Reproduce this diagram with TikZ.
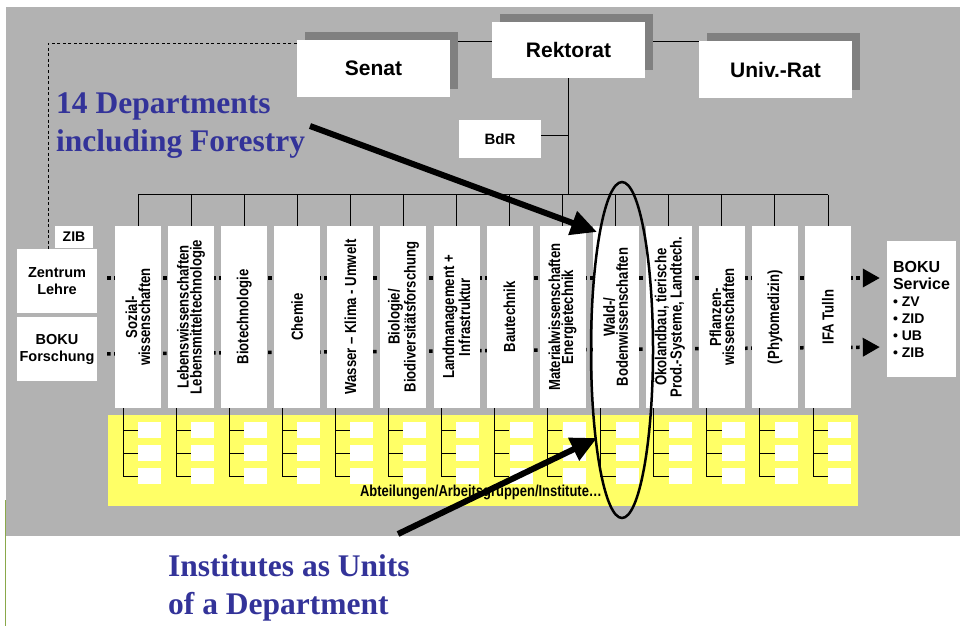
\documentclass[tikz,border=0pt]{standalone}
\usepackage{fontspec}
\setmainfont{Liberation Serif}
\setsansfont{Liberation Sans}
\newfontfamily\narrowsans[FakeStretch=0.82]{Liberation Sans}
\usetikzlibrary{arrows.meta,shapes.geometric,calc}
\definecolor{bggray}{HTML}{B2B2B2}
\definecolor{shadowgray}{HTML}{808080}
\definecolor{instyellow}{HTML}{FFFF66}
\definecolor{noteblue}{HTML}{333399}
\definecolor{edgegreen}{HTML}{8AA84A}
\pgfdeclarelayer{back}
\pgfdeclarelayer{lines}
\pgfdeclarelayer{shadow}
\pgfsetlayers{back,lines,shadow,main}
\begin{document}
\begin{tikzpicture}[x=1pt,y=-1pt,
  topbox/.style={fill=white, minimum width=153pt, minimum height=57pt, inner sep=0pt,
    font=\sffamily\bfseries\fontsize{21}{25}\selectfont},
  whitebox/.style={fill=white, inner sep=0pt, align=center},
  deptbox/.style={fill=white, rotate=90, minimum width=182pt, minimum height=46pt,
    inner sep=0pt, align=center, font=\narrowsans\bfseries\fontsize{16}{13}\selectfont},
  sbox/.style={fill=white, minimum width=23pt, minimum height=16pt, inner sep=0pt},
  lbox/.style={fill=white, minimum width=80pt, minimum height=64pt, inner sep=0pt,
    align=center, font=\sffamily\bfseries\fontsize{14.5}{17}\selectfont},
  conn/.style={draw=black, line width=0.9pt},
  dashline/.style={draw=black, line width=0.8pt, dash pattern=on 3pt off 2.5pt},
  dotarrow/.style={draw=black, line width=3.5pt, dash pattern=on 3.5pt off 3.5pt,
    -{Triangle[length=17pt,width=18pt]}},
  bigarrow/.style={draw=black, line width=6pt, -{Triangle[length=26pt,width=24pt]}},
  bluetxt/.style={text=noteblue, align=left, inner sep=0pt, anchor=north west,
    font=\rmfamily\bfseries\fontsize{31.5}{38.4}\selectfont}
]
\useasboundingbox (0,0) rectangle (960,626);

% background
\begin{pgfonlayer}{back}
  \fill[white] (0,0) rectangle (960,626);
  \fill[bggray] (6,7) rectangle (960,536);
  \draw[edgegreen, line width=1pt] (5.5,500) -- (5.5,626);
  \fill[instyellow] (108,415) rectangle (858,506);
\end{pgfonlayer}

% governance boxes
\node[topbox] (senat) at (373.5,68.5) {Senat};
\node[topbox, minimum height=56pt] (rek) at (568.5,50) {Rektorat};
\node[topbox] (univ) at (775.5,69.5) {Univ.-Rat};
\node[whitebox, minimum width=82pt, minimum height=38pt,
  font=\sffamily\bfseries\fontsize{15}{18}\selectfont] (bdr) at (500,139) {BdR};

% left boxes
\node[whitebox, minimum width=38pt, minimum height=22pt,
  font=\sffamily\bfseries\fontsize{14}{17}\selectfont] (zib) at (74,237) {ZIB};
\node[lbox] (zl) at (57,281) {Zentrum\\Lehre};
\node[lbox] (bf) at (57,349) {BOKU\\Forschung};

% service box
\node[whitebox, align=left, minimum width=69pt, minimum height=136pt,
  font=\sffamily\bfseries\fontsize{16}{17}\selectfont] (svc) at (921.5,309)
  {BOKU\\Service\\{\fontsize{14}{17}\selectfont • ZV}\\{\fontsize{14}{17}\selectfont • ZID}\\{\fontsize{14}{17}\selectfont • UB}\\{\fontsize{14}{17}\selectfont • ZIB}};

% departments
\node[deptbox] (d1) at (138.0,317) {Sozial-\\wissenschaften};
\node[deptbox] (d2) at (191.1,317) {Lebenswissenschaften\\Lebensmitteltechnologie};
\node[deptbox] (d3) at (244.2,317) {Biotechnologie};
\node[deptbox] (d4) at (297.2,317) {Chemie};
\node[deptbox] (d5) at (350.3,317) {Wasser – Klima - Umwelt};
\node[deptbox] (d6) at (403.4,317) {Biologie/\\Biodiversitätsforschung};
\node[deptbox] (d7) at (456.5,317) {Landmanagement +\\Infrastruktur};
\node[deptbox] (d8) at (509.5,317) {Bautechnik};
\node[deptbox] (d9) at (562.6,317) {Materialwissenschaften\\Energietechnik};
\node[deptbox] (d10) at (615.7,317) {Wald-/\\Bodenwissenschaften};
\node[deptbox] (d11) at (668.8,317) {Ökolandbau, tierische\\Prod.-Systeme, Landtech.};
\node[deptbox] (d12) at (721.8,317) {Pflanzen-\\wissenschaften};
\node[deptbox] (d13) at (774.9,317) {(Phytomedizin)};
\node[deptbox] (d14) at (828.0,317) {IFA Tulln};

% institute boxes
\foreach \i in {1,...,14}{
  \pgfmathsetmacro\cx{138+53.077*(\i-1)+11.5}
  \node[sbox] (s\i a) at (\cx,430) {};
  \node[sbox] (s\i b) at (\cx,453) {};
  \node[sbox] (s\i c) at (\cx,476) {};
}
\node[font=\narrowsans\bfseries\fontsize{15.8}{18}\selectfont, inner sep=0pt, anchor=base]
  (abt) at (481,496) {Abteilungen/Arbeitsgruppen/Institute…};

% connectors
\begin{pgfonlayer}{lines}
  \draw[conn] ([yshift=-2pt]senat.north east) -- ([yshift=-1pt]univ.north west);
  \draw[dashline] ([yshift=-4pt]senat.north west) -| ([xshift=-9pt]zl.north);
  \coordinate (busL) at ($(d1.east)+(0,-31)$);
  \coordinate (busR) at ($(d14.east)+(0,-31)$);
  \draw[conn] (busL) -- (busR);
  \draw[conn] (rek.south) -- (rek.south |- busL);
  \draw[conn] ([yshift=4pt]bdr.east) -- ([yshift=4pt]bdr.east -| rek.south);
  \foreach \i in {1,...,14}{
    \draw[conn] (d\i.east) -- ++(0,-31);
    \draw[conn] ([xshift=-15pt]d\i.west) |- (s\i c.west);
    \draw[conn] (s\i a.west) -- ++(-15,0);
    \draw[conn] (s\i b.west) -- ++(-15,0);
  }
  \draw[dotarrow, shorten <=10pt, shorten >=7pt] ([yshift=3pt]zl.east) -- ([yshift=3pt]zl.east -| svc.west);
  \draw[dotarrow, shorten <=10pt, shorten >=7pt] ([yshift=-5pt]bf.east) -- ([yshift=-38pt]svc.west);
\end{pgfonlayer}

\begin{pgfonlayer}{shadow}
  \foreach \n in {senat,rek,univ}
    \fill[shadowgray] ([shift={(8pt,8pt)}]\n.south west) rectangle ([shift={(8pt,8pt)}]\n.north east);
\end{pgfonlayer}

% highlight and annotations
\node[ellipse, draw=black, line width=2.5pt, minimum width=62pt, minimum height=336pt, inner sep=0pt] (hl) at (622,350) {};
\node[bluetxt] (t1) at (56,92.5) {14 Departments\\including Forestry};
\node[bluetxt] (t2) at (168,554) {Institutes as Units\\of a Department};
\coordinate (a1tail) at (310,126);
\coordinate (a1tip) at (597,232);
\coordinate (a2tail) at (398,534);
\coordinate (a2tip) at (597,438);
\draw[bigarrow] (a1tail) -- (a1tip);
\draw[bigarrow] (a2tail) -- (a2tip);
\end{tikzpicture}
\end{document}
